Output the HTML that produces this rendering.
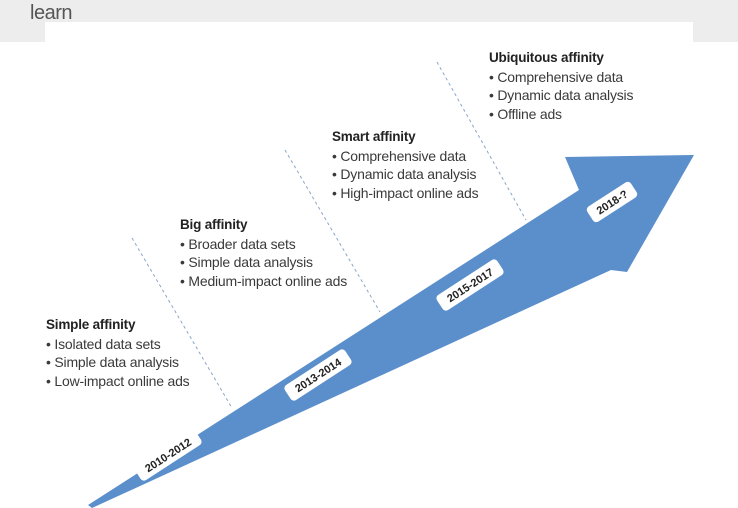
<!DOCTYPE html>
<html><head><style>
html,body{margin:0;padding:0;width:738px;height:508px;overflow:hidden;background:#fff;font-family:"Liberation Sans",sans-serif}
.t{position:absolute;font-size:14px;color:#3a3a3a;line-height:18.7px;white-space:nowrap;letter-spacing:-0.2px}
.t b{font-size:13.5px;color:#222}
</style></head><body>
<div style="position:absolute;left:0;top:0;width:738px;height:42px;background:#ededed"></div>
<div style="position:absolute;left:30px;top:2px;font-size:20px;color:#555;letter-spacing:-0.5px">learn</div>
<div style="position:absolute;left:45px;top:22px;width:648px;height:30px;background:#fff"></div>
<svg width="738" height="508" style="position:absolute;left:0;top:0">
<g stroke="#8aa6c8" stroke-width="1" stroke-dasharray="3,3" fill="none">
<line x1="132" y1="238" x2="232" y2="408"/>
<line x1="285" y1="150" x2="380" y2="312"/>
<line x1="437" y1="62" x2="526" y2="220"/>
</g>
<polygon points="88,505 579,190 565,157 694,155 627,272 611,270 92,508" fill="#5b8fcc"/>
<g font-family="Liberation Sans,sans-serif" font-weight="bold" font-size="11" fill="#222" text-anchor="middle">
<g transform="translate(168,455) rotate(-33)"><rect x="-36" y="-9" width="72" height="18" rx="4" fill="#fff"/><text y="4">2010-2012</text></g>
<g transform="translate(318,375) rotate(-33)"><rect x="-36" y="-9" width="72" height="18" rx="4" fill="#fff"/><text y="4">2013-2014</text></g>
<g transform="translate(470,285) rotate(-33)"><rect x="-36" y="-9" width="72" height="18" rx="4" fill="#fff"/><text y="4">2015-2017</text></g>
<g transform="translate(612,202) rotate(-33)"><rect x="-26" y="-9" width="52" height="18" rx="4" fill="#fff"/><text y="4">2018-?</text></g>
</g>
</svg>
<div class="t" style="left:46px;top:315px"><b>Simple affinity</b><br>• Isolated data sets<br>• Simple data analysis<br>• Low-impact online ads</div>
<div class="t" style="left:180px;top:215px"><b>Big affinity</b><br>• Broader data sets<br>• Simple data analysis<br>• Medium-impact online ads</div>
<div class="t" style="left:332px;top:127px"><b>Smart affinity</b><br>• Comprehensive data<br>• Dynamic data analysis<br>• High-impact online ads</div>
<div class="t" style="left:489px;top:48px"><b>Ubiquitous affinity</b><br>• Comprehensive data<br>• Dynamic data analysis<br>• Offline ads</div>
</body></html>
